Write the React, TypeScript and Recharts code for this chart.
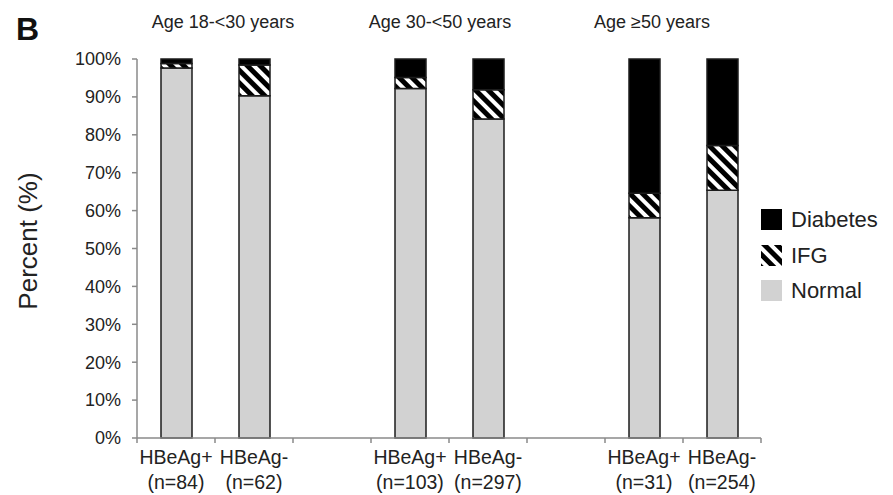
import React from "react";
import { BarChart, Bar, XAxis, YAxis } from "recharts";

// ---- data ----
const groupTitles = ["Age 18-<30 years", "Age 30-<50 years", "Age \u226550 years"];
const categories = ["HBeAg+", "HBeAg-", "HBeAg+", "HBeAg-", "HBeAg+", "HBeAg-"];
const nValues = [84, 62, 103, 297, 31, 254];
const normalPct = [97.6, 90.3, 92.2, 84.2, 58.1, 65.4];
const ifgPct = [1.2, 8.1, 2.9, 7.7, 6.5, 11.8];
const diabetesPct = [1.2, 1.6, 4.9, 8.1, 35.4, 22.8];
const yTicks = [0, 10, 20, 30, 40, 50, 60, 70, 80, 90, 100];
const legendItems = ["Diabetes", "IFG", "Normal"];

// ---- layout ----
const W = 893;
const H = 495;
const PLOT_LEFT = 137;
const PLOT_RIGHT = 761;
const PLOT_TOP = 59;
const PLOT_BOTTOM = 438;
const N_BANDS = 8;
const BAND = (PLOT_RIGHT - PLOT_LEFT) / N_BANDS;
const FONT = "'Liberation Sans', Arial, Helvetica, sans-serif";

const GREY = "#d2d2d2";
const EDGE = "#1c1c1c";
const AXIS = "#8a8a8a";

type Row = {
  id: number;
  line1: string;
  line2: string;
  normal?: number;
  ifg?: number;
  diabetes?: number;
};

const rows: Row[] = [];
categories.forEach((c, i) => {
  rows.push({
    id: rows.length,
    line1: c,
    line2: `(n=${nValues[i]})`,
    normal: normalPct[i],
    ifg: ifgPct[i],
    diabetes: diabetesPct[i],
  });
  if (i % 2 === 1 && i < categories.length - 1) {
    rows.push({ id: rows.length, line1: "", line2: "" });
  }
});

const XTick = (props: any) => {
  const { x, payload, index } = props;
  const row = rows[payload?.value ?? index] || rows[index];
  const left = x - BAND / 2;
  const right = x + BAND / 2;
  return (
    <g>
      <line x1={left} x2={left} y1={PLOT_BOTTOM} y2={PLOT_BOTTOM + 5} stroke={AXIS} strokeWidth={1.5} />
      {index === rows.length - 1 && (
        <line x1={right} x2={right} y1={PLOT_BOTTOM} y2={PLOT_BOTTOM + 5} stroke={AXIS} strokeWidth={1.5} />
      )}
      {row && row.line1 && (
        <text x={x} y={PLOT_BOTTOM + 26} textAnchor="middle" fontSize={19.5} fill="#222" fontFamily={FONT}>
          {row.line1}
        </text>
      )}
      {row && row.line2 && (
        <text x={x} y={PLOT_BOTTOM + 51} textAnchor="middle" fontSize={19.5} fill="#222" fontFamily={FONT}>
          {row.line2}
        </text>
      )}
    </g>
  );
};

const titleCenters = [223, 440, 652];

export default function App() {
  return (
    <div style={{ position: "absolute", left: 0, top: 0, width: W, height: H, background: "#fff", fontFamily: FONT }}>
      <svg width={0} height={0} style={{ position: "absolute" }}>
        <defs>
          <pattern id="hatch" width={9} height={9} patternUnits="userSpaceOnUse" patternTransform="rotate(-45)">
            <rect width={9} height={9} fill="#fff" />
            <rect width={5} height={9} fill="#000" />
          </pattern>
        </defs>
      </svg>
      <BarChart
        width={W}
        height={H}
        data={rows}
        margin={{ top: PLOT_TOP, right: W - PLOT_RIGHT, bottom: 0, left: 0 }}
        barCategoryGap={0}
      >
        <XAxis
          dataKey="id"
          type="category"
          interval={0}
          height={H - PLOT_BOTTOM}
          tickLine={false}
          tickSize={0}
          axisLine={{ stroke: AXIS, strokeWidth: 1.5 }}
          tick={<XTick />}
        />
        <YAxis
          width={PLOT_LEFT}
          domain={[0, 100]}
          ticks={yTicks}
          interval={0}
          tickFormatter={(v: number) => `${v}%`}
          tick={{ fontSize: 18, fill: "#222", fontFamily: FONT }}
          tickSize={5}
          tickMargin={11}
          axisLine={{ stroke: AXIS, strokeWidth: 1.5 }}
          tickLine={{ stroke: AXIS, strokeWidth: 1.5 }}
        />
        <Bar dataKey="normal" stackId="a" fill={GREY} stroke={EDGE} strokeWidth={1.5} barSize={31} isAnimationActive={false} />
        <Bar dataKey="ifg" stackId="a" fill="url(#hatch)" stroke={EDGE} strokeWidth={1.5} barSize={31} isAnimationActive={false} />
        <Bar dataKey="diabetes" stackId="a" fill="#000" stroke={EDGE} strokeWidth={1.5} barSize={31} isAnimationActive={false} />
      </BarChart>

      <div style={{ position: "absolute", left: 16, top: 13, fontSize: 32, fontWeight: "bold", color: "#111", lineHeight: "32px" }}>B</div>

      {groupTitles.map((t, i) => (
        <div
          key={t}
          style={{
            position: "absolute",
            left: titleCenters[i] - 100,
            width: 200,
            top: 12,
            textAlign: "center",
            fontSize: 18,
            color: "#222",
            lineHeight: "20px",
            whiteSpace: "nowrap",
          }}
        >
          {t}
        </div>
      ))}

      <div
        style={{
          position: "absolute",
          left: 28 - 100,
          top: 241 - 15,
          width: 200,
          height: 30,
          textAlign: "center",
          fontSize: 26,
          lineHeight: "30px",
          color: "#222",
          transform: "rotate(-90deg)",
          whiteSpace: "nowrap",
        }}
      >
        Percent (%)
      </div>

      {legendItems.map((name, i) => (
        <div
          key={name}
          style={{ position: "absolute", left: 761, top: 209 + i * 35.5, height: 21, display: "flex", alignItems: "center" }}
        >
          <svg width={21} height={21} style={{ display: "block" }}>
            <rect
              x={0}
              y={0}
              width={21}
              height={21}
              fill={name === "Diabetes" ? "#000" : name === "IFG" ? "url(#hatch)" : GREY}
            />
          </svg>
          <span style={{ marginLeft: 9, fontSize: 22, color: "#222", lineHeight: "21px" }}>{name}</span>
        </div>
      ))}
    </div>
  );
}
